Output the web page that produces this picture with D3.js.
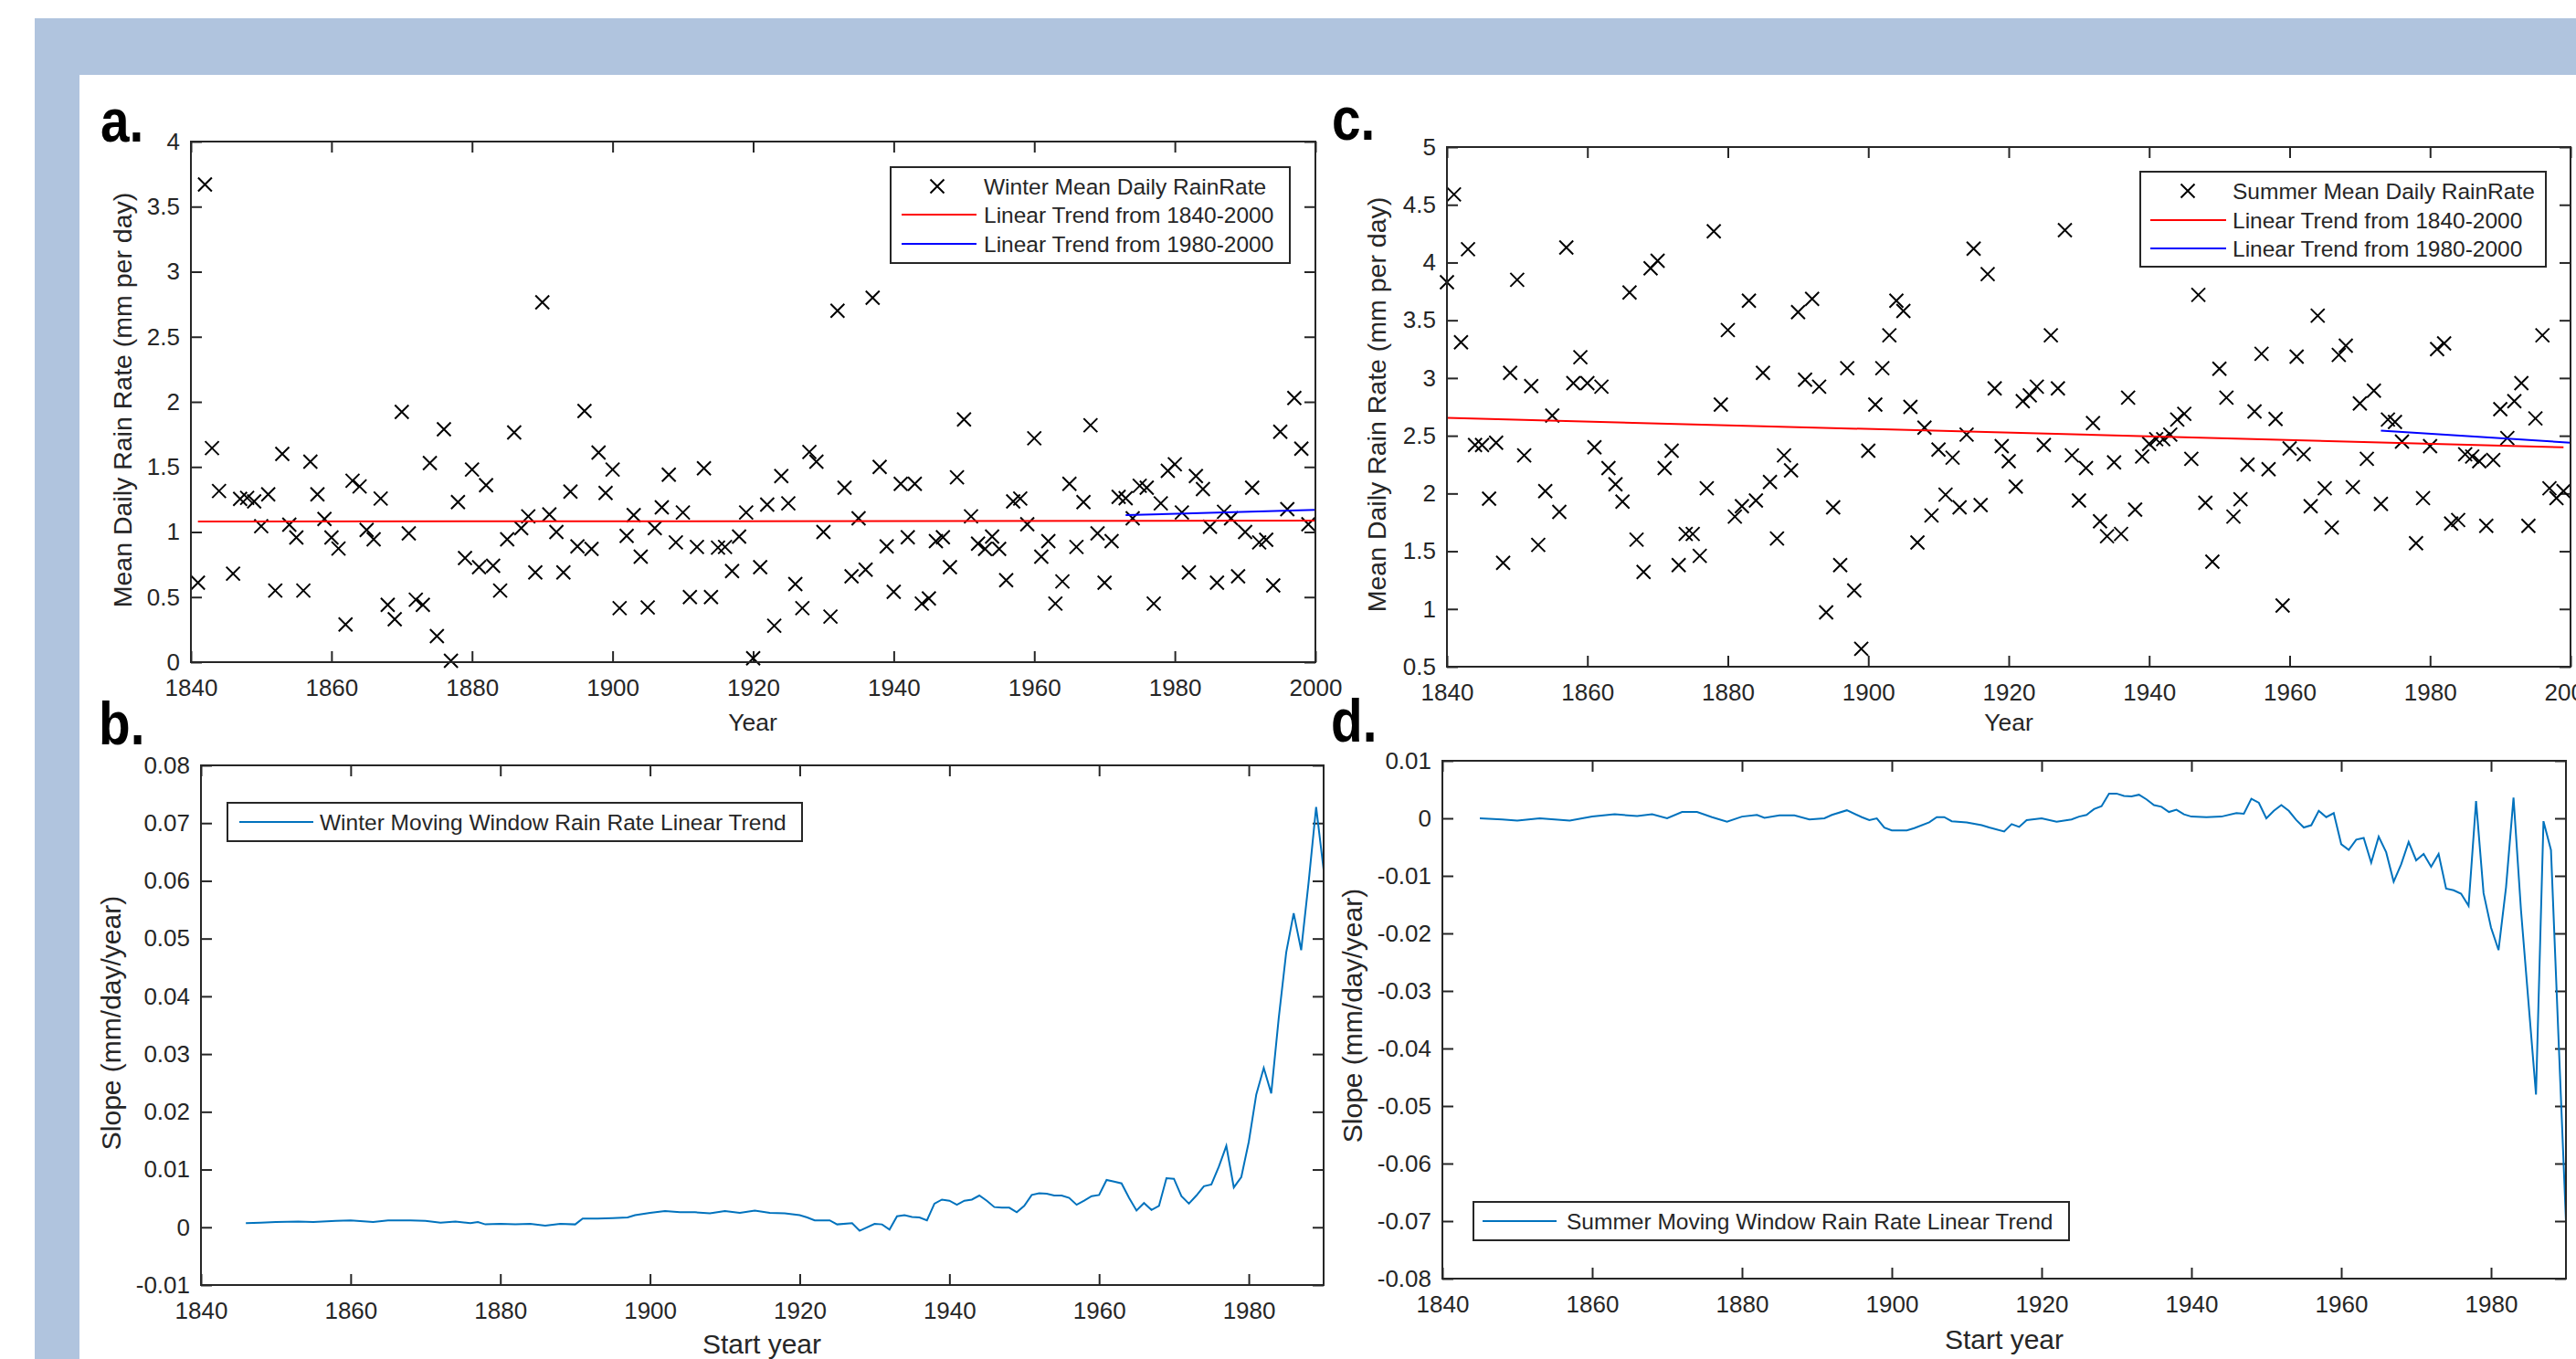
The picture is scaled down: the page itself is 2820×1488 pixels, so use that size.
<!DOCTYPE html>
<html>
<head>
<meta charset="utf-8">
<script src="https://cdn.jsdelivr.net/npm/d3@7"></script>
<style>
  body { margin: 0; background: #fff; }
  svg text { font-family: "Liberation Sans", Arial, Helvetica, sans-serif; fill: #262626; }
</style>
</head>
<body>
<svg id="chart" width="2820" height="1488"></svg>
<script>
// ---- values ----

// a. winter mean daily rain rate (mm per day)
const winterYears = [1841,1842,1843,1844,1846,1847,1848,1849,1850,1851,1852,1853,1854,1855,1856,1857,1858,1859,1860,
  1861,1862,1863,1864,1865,1866,1867,1868,1869,1870,1871,1872,1873,1874,1875,1876,1877,1878,1879,1880,
  1881,1882,1883,1884,1885,1886,1887,1888,1889,1890,1891,1892,1893,1894,1895,1896,1897,1898,1899,1900,
  1901,1902,1903,1904,1905,1906,1907,1908,1909,1910,1911,1912,1913,1914,1915,1916,1917,1918,1919,1920,
  1921,1922,1923,1924,1925,1926,1927,1928,1929,1930,1931,1932,1933,1934,1935,1936,1937,1938,1939,1940,
  1941,1942,1943,1944,1945,1946,1947,1948,1949,1950,1951,1952,1953,1954,1955,1956,1957,1958,1959,1960,
  1961,1962,1963,1964,1965,1966,1967,1968,1969,1970,1971,1972,1973,1974,1975,1976,1977,1978,1979,1980,
  1981,1982,1983,1984,1985,1986,1987,1988,1989,1990,1991,1992,1993,1994,1995,1996,1997,1998,1999];
const winterRain = [0.61,3.67,1.645,1.315,0.68,1.254,1.262,1.235,1.045,1.29,0.55,1.60,1.056,0.958,0.55,1.54,1.29,1.10,0.958,
  0.873,0.29,1.394,1.35,1.016,0.944,1.257,0.44,0.33,1.923,0.99,0.48,0.44,1.53,0.20,1.79,0.01,1.23,0.80,1.48,
  0.73,1.36,0.74,0.55,0.944,1.765,1.03,1.12,0.69,2.765,1.135,1.0,0.69,1.31,0.89,1.93,0.87,1.61,1.30,1.48,
  0.415,0.97,1.13,0.81,0.42,1.03,1.19,1.44,0.92,1.15,0.50,0.885,1.49,0.50,0.88,0.885,0.70,0.965,1.15,0.03,
  0.73,1.21,0.28,1.43,1.22,0.60,0.415,1.615,1.54,1.0,0.35,2.70,1.34,0.66,1.105,0.71,2.80,1.50,0.89,0.54,
  1.37,0.96,1.37,0.45,0.49,0.93,0.96,0.73,1.42,1.865,1.12,0.91,0.87,0.965,0.87,0.63,1.235,1.257,1.06,1.72,
  0.81,0.93,0.45,0.62,1.37,0.885,1.23,1.82,0.99,0.61,0.93,1.27,1.26,1.105,1.355,1.34,0.45,1.22,1.47,1.52,
  1.15,0.69,1.43,1.33,1.04,0.61,1.155,1.105,0.66,1.0,1.34,0.92,0.94,0.59,1.77,1.175,2.03,1.64,1.06];
const winterTrendLong = [[1841, 1.08], [2000, 1.087]];
const winterTrendShort = [[1973, 1.13], [2000, 1.17]];

// c. summer mean daily rain rate (mm per day)
const summerYears = [1840,1841,1842,1843,1844,1845,1846,1847,1848,1849,1850,1851,1852,1853,1854,1855,1856,1857,1858,1859,1860,
  1861,1862,1863,1864,1865,1866,1867,1868,1869,1870,1871,1872,1873,1874,1875,1876,1877,1878,1879,1880,
  1881,1882,1883,1884,1885,1886,1887,1888,1889,1890,1891,1892,1893,1894,1895,1896,1897,1898,1899,1900,
  1901,1902,1903,1904,1905,1906,1907,1908,1909,1910,1911,1912,1913,1914,1915,1916,1917,1918,1919,1920,
  1921,1922,1923,1924,1925,1926,1927,1928,1929,1930,1931,1932,1933,1934,1935,1936,1937,1938,1939,1940,
  1941,1942,1943,1944,1945,1946,1947,1948,1949,1950,1951,1952,1953,1954,1955,1956,1957,1958,1959,1960,
  1961,1962,1963,1964,1965,1966,1967,1968,1969,1970,1971,1972,1973,1974,1975,1976,1978,1979,1980,
  1981,1982,1983,1984,1985,1986,1987,1988,1989,1990,1991,1992,1993,1994,1995,1996,1997,1998,1999];
const summerRain = [3.83,4.59,3.31,4.115,2.42,2.42,1.955,2.44,1.40,3.045,3.85,2.33,2.93,1.555,2.02,2.675,1.84,4.13,2.955,3.18,2.955,
  2.40,2.925,2.22,2.08,1.93,3.74,1.60,1.32,3.95,4.015,2.22,2.37,1.38,1.65,1.65,1.46,2.045,4.27,2.77,3.415,
  1.80,1.89,3.67,1.94,3.045,2.10,1.61,2.33,2.20,3.57,2.985,3.685,2.925,0.97,1.88,1.38,3.085,1.16,0.655,2.37,
  2.77,3.085,3.37,3.67,3.58,2.75,1.575,2.57,1.81,2.38,1.99,2.31,1.88,2.51,4.12,1.90,3.90,2.91,2.41,2.28,
  2.06,2.80,2.85,2.925,2.42,3.37,2.91,4.28,2.33,1.94,2.22,2.61,1.76,1.63,2.27,1.65,2.83,1.86,2.32,2.43,
  2.47,2.47,2.51,2.64,2.69,2.30,3.72,1.92,1.41,3.08,2.83,1.80,1.95,2.25,2.71,3.21,2.21,2.645,1.03,2.39,
  3.185,2.34,1.89,3.54,2.045,1.705,3.20,3.28,2.055,2.78,2.30,2.89,1.91,2.64,2.62,2.45,1.57,1.96,2.41,
  3.25,3.30,1.74,1.77,2.34,2.32,2.28,1.72,2.29,2.73,2.48,2.80,2.955,1.72,2.65,3.37,2.045,1.96,2.02];
const summerTrendLong = [[1840, 2.655], [1999, 2.40]];
const summerTrendShort = [[1973, 2.545], [2000, 2.44]];

// b. winter moving window slope (mm/day/year) by start year
const winterSlopeYears = [1846,1848,1850,1853,1855,1858,1860,1863,1865,1868,1870,1872,1874,1876,1877,1878,1880,1882,1884,1886,1888,1890,
  1891,1893,1895,1897,1898,1900,1902,1904,1906,1908,1910,1912,1914,1916,1918,1920,1921,1922,1924,1925,1927,1928,1930,
  1931,1932,1933,1934,1935,1936,1937,1938,1939,1940,1941,1942,1943,1944,1945,1946,1947,1948,1949,1950,
  1951,1952,1953,1954,1955,1956,1957,1958,1959,1960,1961,1962,1963,1964,1965,1966,1967,1968,1969,1970,
  1971,1972,1973,1974,1975,1976,1977,1978,1979,1980,1981,1982,1983,1984,1985,1986,1987,1988,1989,1990];
const winterSlope = [0.0007,0.0008,0.0009,0.0010,0.0009,0.0011,0.0012,0.0009,0.0012,0.0012,0.0011,0.0008,0.0010,0.0007,0.0009,0.0005,0.0006,0.0005,0.0006,0.0003,0.0006,0.0005,
  0.0015,0.0015,0.0016,0.0017,0.0021,0.0025,0.0028,0.0026,0.0026,0.0024,0.0028,0.0025,0.0029,0.0025,0.0024,0.0021,0.0017,0.0012,0.0012,0.0005,0.0007,-0.0006,0.0006,
  0.0005,-0.0004,0.0019,0.0021,0.0018,0.0017,0.0012,0.0041,0.0048,0.0046,0.0039,0.0046,0.0048,0.0055,0.0046,0.0035,0.0034,0.0034,0.0026,0.0037,
  0.0056,0.0059,0.0058,0.0055,0.0055,0.0051,0.0039,0.0046,0.0054,0.0056,0.0082,0.0079,0.0076,0.0051,0.0029,0.0042,0.0030,0.0037,0.0085,0.0084,
  0.0054,0.0041,0.0055,0.0071,0.0074,0.0105,0.0141,0.0069,0.0087,0.0148,0.0230,0.0276,0.0232,0.0362,0.0476,0.0544,0.0480,0.0598,0.0728,0.0619];

// d. summer moving window slope (mm/day/year) by start year
const summerSlopeYears = [1845,1848,1850,1853,1855,1857,1860,1863,1866,1868,1870,1872,1874,1876,1878,1880,1882,1883,1885,1887,1889,1891,1892,1894,1896,1897,1898,1899,1900,
  1902,1903,1905,1906,1907,1908,1910,1912,1913,1915,1916,1917,1918,1920,1922,1924,1925,1926,1927,1928,1929,1930,
  1931,1932,1933,1934,1935,1936,1937,1938,1939,1940,1942,1944,1946,1947,1948,1949,1950,
  1951,1952,1953,1954,1955,1956,1957,1958,1959,1960,1961,1962,1963,1964,1965,1966,1967,1968,1969,1970,
  1971,1972,1973,1974,1975,1976,1977,1978,1979,1980,1981,1982,1983,1984,1985,1986,1987,1988,1989,1990];
const summerSlope = [0.0,-0.0002,-0.0004,0.0,-0.0002,-0.0004,0.0003,0.0007,0.0004,0.0007,0.0,0.0011,0.0011,0.0002,-0.0006,0.0003,0.0006,0.0001,0.0005,0.0005,-0.0002,0.0,0.0006,0.0014,0.0002,-0.0003,0.0,-0.0016,-0.0021,
  -0.0021,-0.0017,-0.0007,0.0002,0.0002,-0.0005,-0.0007,-0.0012,-0.0016,-0.0023,-0.0010,-0.0015,-0.0003,0.0,-0.0006,-0.0002,0.0003,0.0006,0.0016,0.0021,0.0043,0.0043,
  0.0039,0.0038,0.0041,0.0033,0.0023,0.0020,0.0011,0.0015,0.0007,0.0003,0.0002,0.0003,0.0009,0.0008,0.0034,0.0027,0.0,
  0.0013,0.0023,0.0013,-0.0003,-0.0016,-0.0012,0.0013,0.0002,0.0009,-0.0045,-0.0055,-0.0037,-0.0034,-0.0077,-0.0032,-0.0059,-0.0110,-0.0080,-0.0041,-0.0073,
  -0.0062,-0.0084,-0.0062,-0.0122,-0.0125,-0.0131,-0.0152,0.0030,-0.0130,-0.0190,-0.0229,-0.0120,0.0036,-0.0160,-0.0320,-0.0480,-0.0005,-0.0055,-0.0380,-0.0700];

// ticks
const yearTicks = [1840, 1860, 1880, 1900, 1920, 1940, 1960, 1980, 2000];
const startYearTicks = [1840, 1860, 1880, 1900, 1920, 1940, 1960, 1980];
const winterRainTicks = [0, 0.5, 1, 1.5, 2, 2.5, 3, 3.5, 4];
const summerRainTicks = [0.5, 1, 1.5, 2, 2.5, 3, 3.5, 4, 4.5, 5];
const winterSlopeTicks = [-0.01, 0, 0.01, 0.02, 0.03, 0.04, 0.05, 0.06, 0.07, 0.08];
const summerSlopeTicks = [-0.08, -0.07, -0.06, -0.05, -0.04, -0.03, -0.02, -0.01, 0, 0.01];

const AXIS_COLOR = '#262626';
const LINE_BLUE = '#0072bd';

const svg = d3.select('#chart');

// light blue frame behind the figure
svg.append('rect').attr('x', 38).attr('y', 20).attr('width', 2820 - 38).attr('height', 1488 - 20).attr('fill', '#b0c4de');
svg.append('rect').attr('x', 87).attr('y', 82).attr('width', 2820 - 87).attr('height', 1488 - 82).attr('fill', '#fff');

const fmt = d => String(+d.toFixed(3));
const cross = 'M-7.5,-7.5L7.5,7.5M-7.5,7.5L7.5,-7.5';

// MATLAB style box axes: ticks inside on all four sides
function drawAxes(box, xDomain, yDomain, xTicks, yTicks) {
  const x = d3.scaleLinear().domain(xDomain).range([box.left, box.right]);
  const y = d3.scaleLinear().domain(yDomain).range([box.bottom, box.top]);
  const g = svg.append('g');
  g.append('rect')
    .attr('x', box.left).attr('y', box.top)
    .attr('width', box.right - box.left).attr('height', box.bottom - box.top)
    .attr('fill', '#fff');
  g.append('g').attr('transform', `translate(0,${box.bottom})`)
    .call(d3.axisBottom(x).tickValues(xTicks).tickSizeInner(-12).tickSizeOuter(0).tickPadding(19).tickFormat(fmt));
  g.append('g').attr('transform', `translate(0,${box.top})`)
    .call(d3.axisTop(x).tickValues(xTicks).tickSizeInner(-12).tickSizeOuter(0).tickFormat(''));
  g.append('g').attr('transform', `translate(${box.left},0)`)
    .call(d3.axisLeft(y).tickValues(yTicks).tickSizeInner(-12).tickSizeOuter(0).tickPadding(12).tickFormat(fmt));
  g.append('g').attr('transform', `translate(${box.right},0)`)
    .call(d3.axisRight(y).tickValues(yTicks).tickSizeInner(-12).tickSizeOuter(0).tickFormat(''));
  g.selectAll('.domain').remove();
  g.selectAll('.tick line').attr('stroke', AXIS_COLOR).attr('stroke-width', 2);
  g.selectAll('.tick text').attr('font-size', 26);
  const plot = g.append('g');
  g.append('rect')
    .attr('x', box.left).attr('y', box.top)
    .attr('width', box.right - box.left).attr('height', box.bottom - box.top)
    .attr('fill', 'none').attr('stroke', AXIS_COLOR).attr('stroke-width', 2);
  return {g, plot, x, y};
}

function drawScatter(ax, years, values) {
  ax.plot.selectAll('path.mark').data(years).join('path')
    .attr('class', 'mark')
    .attr('d', cross)
    .attr('transform', (d, i) => `translate(${ax.x(d)},${ax.y(values[i])})`)
    .attr('stroke', '#000').attr('stroke-width', 2).attr('fill', 'none');
}

function drawTrend(ax, pts, color) {
  ax.plot.append('path')
    .attr('d', d3.line().x(d => ax.x(d[0])).y(d => ax.y(d[1]))(pts))
    .attr('stroke', color).attr('stroke-width', 2).attr('fill', 'none');
}

function drawSeries(ax, years, values) {
  ax.plot.append('path')
    .attr('d', d3.line().x((d, i) => ax.x(years[i])).y(d => ax.y(d))(values))
    .attr('stroke', LINE_BLUE).attr('stroke-width', 2).attr('fill', 'none');
}

function label(txt, x, y, size, rotate) {
  const t = svg.append('text').text(txt).attr('font-size', size).attr('text-anchor', 'middle');
  if (rotate) t.attr('transform', `translate(${x},${y}) rotate(-90)`);
  else t.attr('x', x).attr('y', y);
  return t;
}

function panelLetter(txt, x, y) {
  svg.append('text').text(txt)
    .attr('transform', `translate(${x},${y}) scale(0.86,1)`)
    .attr('font-size', 66).attr('font-weight', 'bold').style('fill', '#000');
}

// scatter legend (marker + two trend lines)
function scatterLegend(box, mx, lx0, lx1, tx, rows, names) {
  const g = svg.append('g');
  g.append('rect').attr('x', box[0]).attr('y', box[1]).attr('width', box[2] - box[0]).attr('height', box[3] - box[1])
    .attr('fill', '#fff').attr('stroke', AXIS_COLOR).attr('stroke-width', 2);
  g.append('path').attr('d', cross).attr('transform', `translate(${mx},${rows[0]})`)
    .attr('stroke', '#000').attr('stroke-width', 2);
  g.append('line').attr('x1', lx0).attr('x2', lx1).attr('y1', rows[1]).attr('y2', rows[1]).attr('stroke', '#ff0000').attr('stroke-width', 2);
  g.append('line').attr('x1', lx0).attr('x2', lx1).attr('y1', rows[2]).attr('y2', rows[2]).attr('stroke', '#0000ff').attr('stroke-width', 2);
  names.forEach((n, i) => {
    g.append('text').text(n).attr('x', tx).attr('y', rows[i]).attr('dy', '0.36em').attr('font-size', 24.5);
  });
}

function lineLegend(box, lx0, lx1, tx, name) {
  const g = svg.append('g');
  const cy = (box[1] + box[3]) / 2;
  g.append('rect').attr('x', box[0]).attr('y', box[1]).attr('width', box[2] - box[0]).attr('height', box[3] - box[1])
    .attr('fill', '#fff').attr('stroke', AXIS_COLOR).attr('stroke-width', 2);
  g.append('line').attr('x1', lx0).attr('x2', lx1).attr('y1', cy).attr('y2', cy).attr('stroke', LINE_BLUE).attr('stroke-width', 2);
  g.append('text').text(name).attr('x', tx).attr('y', cy).attr('dy', '0.36em').attr('font-size', 24.5);
}

// ---- panel a ----
const axA = drawAxes({left: 209, right: 1440, top: 155, bottom: 725}, [1840, 2000], [0, 4], yearTicks, winterRainTicks);
drawScatter(axA, winterYears, winterRain);
drawTrend(axA, winterTrendLong, '#ff0000');
drawTrend(axA, winterTrendShort, '#0000ff');
scatterLegend([975, 183, 1412, 288], 1026, 987, 1069, 1077, [204, 235, 267],
  ['Winter Mean Daily RainRate', 'Linear Trend from 1840-2000', 'Linear Trend from 1980-2000']);
label('Year', 824, 800, 26.5);
label('Mean Daily Rain Rate (mm per day)', 144, 438, 28.5, true);
panelLetter('a.', 110, 155);

// ---- panel c ----
const axC = drawAxes({left: 1584, right: 2814, top: 161, bottom: 730}, [1840, 2000], [0.5, 5], yearTicks, summerRainTicks);
drawScatter(axC, summerYears, summerRain);
drawTrend(axC, summerTrendLong, '#ff0000');
drawTrend(axC, summerTrendShort, '#0000ff');
scatterLegend([2343, 188, 2787, 292], 2395, 2354, 2437, 2444, [209, 241, 272],
  ['Summer Mean Daily RainRate', 'Linear Trend from 1840-2000', 'Linear Trend from 1980-2000']);
label('Year', 2199, 800, 26.5);
label('Mean Daily Rain Rate (mm per day)', 1517, 443, 28.5, true);
panelLetter('c.', 1458, 153);

// ---- panel b ----
const axB = drawAxes({left: 220, right: 1449, top: 838, bottom: 1407}, [1840, 1990], [-0.01, 0.08], startYearTicks, winterSlopeTicks);
drawSeries(axB, winterSlopeYears, winterSlope);
lineLegend([249, 879, 878, 921], 262, 343, 350, 'Winter Moving Window Rain Rate Linear Trend');
label('Start year', 834, 1482, 30);
label('Slope (mm/day/year)', 132, 1120, 30, true);
panelLetter('b.', 108, 815);

// ---- panel d ----
const axD = drawAxes({left: 1579, right: 2809, top: 833, bottom: 1400}, [1840, 1990], [-0.08, 0.01], startYearTicks, summerSlopeTicks);
drawSeries(axD, summerSlopeYears, summerSlope);
lineLegend([1613, 1316, 2265, 1358], 1623, 1704, 1715, 'Summer Moving Window Rain Rate Linear Trend');
label('Start year', 2194, 1477, 30);
label('Slope (mm/day/year)', 1491, 1112, 30, true);
panelLetter('d.', 1457, 812);
</script>
</body>
</html>
